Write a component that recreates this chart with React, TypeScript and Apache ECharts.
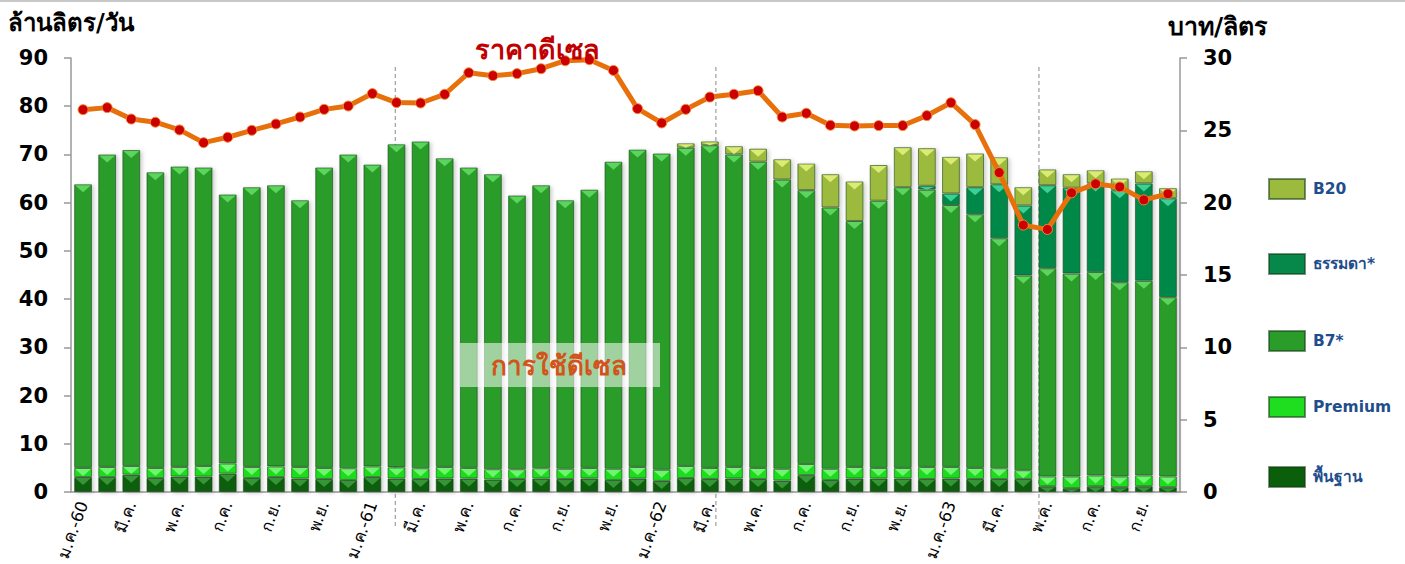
import React, { useEffect, useRef } from "react";
import * as echarts from "echarts";

const months = [
  "ม.ค.-60", "ก.พ.", "มี.ค.", "เม.ย.", "พ.ค.", "มิ.ย.", "ก.ค.", "ส.ค.", "ก.ย.", "ต.ค.", "พ.ย.", "ธ.ค.",
  "ม.ค.-61", "ก.พ.", "มี.ค.", "เม.ย.", "พ.ค.", "มิ.ย.", "ก.ค.", "ส.ค.", "ก.ย.", "ต.ค.", "พ.ย.", "ธ.ค.",
  "ม.ค.-62", "ก.พ.", "มี.ค.", "เม.ย.", "พ.ค.", "มิ.ย.", "ก.ค.", "ส.ค.", "ก.ย.", "ต.ค.", "พ.ย.", "ธ.ค.",
  "ม.ค.-63", "ก.พ.", "มี.ค.", "เม.ย.", "พ.ค.", "มิ.ย.", "ก.ค.", "ส.ค.", "ก.ย.", "ต.ค.",
];

const baseDiesel = [
  3.1, 3.1, 3.6, 2.9, 3.2, 3.2, 3.8, 2.9, 3.1, 2.8, 2.7, 2.5,
  3.1, 2.8, 2.7, 2.8, 2.8, 2.6, 2.7, 2.8, 2.7, 2.8, 2.5, 2.8,
  2.3, 2.9, 2.7, 2.8, 2.7, 2.4, 3.5, 2.5, 2.8, 2.8, 2.8, 2.7,
  2.8, 2.7, 2.7, 2.7, 1.2, 0.8, 1.2, 1.0, 1.2, 1.0,
];
const premium = [
  1.9, 2.1, 1.8, 2.1, 2.0, 2.2, 2.1, 2.3, 2.2, 2.4, 2.3, 2.4,
  2.2, 2.3, 2.2, 2.4, 2.2, 2.1, 2.0, 2.1, 2.1, 2.2, 2.3, 2.4,
  2.3, 2.5, 2.3, 2.4, 2.3, 2.4, 2.3, 2.3, 2.4, 2.2, 2.2, 2.5,
  2.4, 2.3, 2.2, 1.8, 2.0, 2.4, 2.2, 2.2, 2.2, 2.2,
];
const b7 = [
  58.8, 64.8, 65.5, 61.3, 62.3, 61.9, 55.8, 58.0, 58.3, 55.3, 62.3, 65.1,
  62.6, 67.0, 67.8, 64.0, 62.3, 61.2, 56.8, 58.7, 55.7, 57.7, 63.7, 65.8,
  65.6, 66.0, 66.9, 64.8, 63.5, 60.0, 56.8, 54.2, 51.0, 55.4, 58.2, 57.5,
  54.3, 52.6, 47.7, 40.4, 43.2, 42.1, 42.2, 40.3, 40.4, 37.2,
];
const regular = [
  0, 0, 0, 0, 0, 0, 0, 0, 0, 0, 0, 0,
  0, 0, 0, 0, 0, 0, 0, 0, 0, 0, 0, 0,
  0, 0, 0, 0, 0, 0, 0, 0, 0, 0, 0, 0.8,
  2.4, 5.6, 11.2, 14.5, 17.2, 17.8, 18.4, 19.1, 20.2, 20.5,
];
const b20 = [
  0, 0, 0, 0, 0, 0, 0, 0, 0, 0, 0, 0,
  0, 0, 0, 0, 0, 0, 0, 0, 0, 0, 0, 0,
  0.2, 0.9, 0.8, 1.7, 2.7, 4.2, 5.5, 6.9, 8.2, 7.4, 8.3, 7.8,
  7.6, 7.0, 5.6, 3.8, 3.3, 2.8, 2.7, 2.4, 2.5, 2.1,
];
const dieselPrice = [
  26.43, 26.57, 25.78, 25.56, 25.03, 24.15, 24.52, 25.0, 25.44, 25.92, 26.45, 26.68,
  27.54, 26.92, 26.89, 27.49, 28.98, 28.78, 28.92, 29.26, 29.81, 29.88, 29.14, 26.5,
  25.51, 26.45, 27.3, 27.49, 27.74, 25.92, 26.18, 25.35, 25.3, 25.33, 25.33, 26.02,
  26.91, 25.4, 22.08, 18.45, 18.15, 20.68, 21.3, 21.09, 20.19, 20.61,
];
const leftTicks = { min: 0, max: 90, interval: 10 };
const rightTicks = { min: 0, max: 30, interval: 5 };
// vertical dashed dividers, in category units (bar index)
const dividers = [12.95, 26.25, 39.65];

const FONT = "'DejaVu Sans', Tahoma, Verdana, 'Noto Sans', sans-serif";
const GAP = 0.26;

const seriesDefs = [
  { name: "พื้นฐาน", data: baseDiesel, color: "#0b5f0b", light: "#3c9a3c" },
  { name: "Premium", data: premium, color: "#1fdd1f", light: "#7af77a" },
  { name: "B7*", data: b7, color: "#2a9c2a", light: "#62dc62" },
  { name: "ธรรมดา*", data: regular, color: "#05884a", light: "#43d89c" },
  { name: "B20", data: b20, color: "#9cba3c", light: "#e2f27a" },
];
const legendOrder = ["B20", "ธรรมดา*", "B7*", "Premium", "พื้นฐาน"];
const legendTops = [178, 253, 330, 396, 466];

export default function App() {
  const ref = useRef<HTMLDivElement>(null);
  useEffect(() => {
    document.body.style.margin = "0";
    const chart = echarts.init(ref.current!, null, { renderer: "svg" });
    const barSeries = seriesDefs.map((s) => ({
      name: s.name,
      type: "bar",
      stack: "use",
      yAxisIndex: 0,
      barCategoryGap: `${GAP * 100}%`,
      data: s.data.map((v) => (v === 0 ? null : v)),
      itemStyle: {
        color: s.color,
        borderColor: "rgba(20,60,20,0.55)",
        borderWidth: 1,
        shadowColor: "rgba(0,0,0,0.22)",
        shadowBlur: 4,
        shadowOffsetX: 2,
        shadowOffsetY: 1,
      },
    }));

    // cumulative tops of each segment, for the bevel highlights
    const bevelData = months.map((_, i) => {
      const row: (number | null)[] = [i];
      let cum = 0;
      seriesDefs.forEach((s) => {
        const v = s.data[i];
        row.push(cum);
        cum += v;
        row.push(v > 0 ? cum : null);
      });
      return row;
    });

    const axisLabelStyle = { color: "#000", fontSize: 21, fontWeight: "bold", margin: 23, fontFamily: FONT };

    const option: any = {
      animation: false,
      backgroundColor: "#ffffff",
      textStyle: { fontFamily: FONT },
      grid: { left: 71, right: 225, top: 58, bottom: 72 },
      legend: legendOrder.map((n, i) => ({
        data: [n],
        left: 1268,
        top: legendTops[i],
        padding: 0,
        orient: "vertical",
        itemWidth: 36,
        itemHeight: 20,
        itemGap: 0,
        icon: "rect",
        selectedMode: false,
        textStyle: { color: "#1f4e8c", fontWeight: "bold", fontSize: 15.5, fontFamily: FONT, padding: [0, 0, 0, 3] },
      })),
      xAxis: {
        type: "category",
        data: months,
        axisLine: { lineStyle: { color: "#999999", width: 1.5 } },
        axisTick: { interval: 0, length: 6, lineStyle: { color: "#999999", width: 1.5 } },
        axisLabel: {
          interval: 1,
          rotate: 70,
          color: "#000",
          fontSize: 16.5,
          margin: 10,
          fontFamily: FONT,
        },
        splitLine: { show: false },
      },
      yAxis: [
        {
          type: "value",
          ...leftTicks,
          position: "left",
          axisLine: { show: true, lineStyle: { color: "#999999", width: 1.5 } },
          axisTick: { show: true, length: 7, lineStyle: { color: "#999999", width: 1.5 } },
          axisLabel: axisLabelStyle,
          splitLine: { show: false },
        },
        {
          type: "value",
          ...rightTicks,
          position: "right",
          axisLine: { show: true, lineStyle: { color: "#999999", width: 1.5 } },
          axisTick: { show: true, length: 7, lineStyle: { color: "#999999", width: 1.5 } },
          axisLabel: axisLabelStyle,
          splitLine: { show: false },
        },
      ],
      series: [
        ...barSeries,
        {
          type: "custom",
          yAxisIndex: 0,
          silent: true,
          z: 5,
          data: bevelData,
          encode: { x: 0, y: 2 },
          renderItem: (params: any, api: any) => {
            const i = api.value(0);
            const w = api.size([1, 0])[0] * (1 - GAP) - 2;
            const children: any[] = [];
            seriesDefs.forEach((s, k) => {
              const top = api.value(2 + k * 2);
              if (top == null || isNaN(top)) return;
              const bottom = api.value(1 + k * 2);
              const [x, yTop] = api.coord([i, top]);
              const yBot = api.coord([i, bottom])[1];
              const segH = yBot - yTop;
              const h = Math.min(7, Math.max(0, segH - 1));
              if (h < 1) return;
              children.push({
                type: "polygon",
                shape: {
                  points: [
                    [x - w / 2, yTop + 1],
                    [x + w / 2, yTop + 1],
                    [x, yTop + 1 + h],
                  ],
                },
                style: { fill: s.light, opacity: 0.9 },
              });
            });
            return { type: "group", children };
          },
        },
        {
          name: "ราคาดีเซล",
          type: "line",
          yAxisIndex: 1,
          data: dieselPrice,
          z: 10,
          symbol: "circle",
          symbolSize: 10,
          lineStyle: { color: "#e8700a", width: 5 },
          itemStyle: { color: "#cc0000", borderColor: "#f08a3a", borderWidth: 1 },
        },
      ],
    };
    chart.setOption(option);

    const p0 = chart.convertToPixel({ xAxisIndex: 0 }, months[0]) as number;
    const p1 = chart.convertToPixel({ xAxisIndex: 0 }, 1 as any) as number;
    const bw = p1 - p0;

    chart.setOption({
      graphic: [
        { type: "rect", left: 0, top: 0, shape: { width: 1405, height: 2 }, style: { fill: "#c8c8c8" }, z: 100 },
        ...dividers.map((d) => ({
          type: "line",
          z: 1,
          shape: { x1: p0 + d * bw, y1: 67, x2: p0 + d * bw, y2: 528 },
          style: { stroke: "#8a8a8a", lineWidth: 1, lineDash: [4, 3] },
        })),
        {
          type: "rect",
          z: 50,
          shape: { x: 460, y: 343, width: 200, height: 44 },
          style: { fill: "rgba(255,255,255,0.55)" },
        },
        {
          type: "text",
          z: 51,
          x: 559,
          y: 366,
          style: {
            text: "การใช้ดีเซล",
            fill: "#d2541a",
            font: `bold 26px ${FONT}`,
            align: "center",
            verticalAlign: "middle",
          },
        },
        {
          type: "text",
          z: 51,
          x: 537,
          y: 49,
          style: {
            text: "ราคาดีเซล",
            fill: "#c00000",
            font: `bold 27px ${FONT}`,
            align: "center",
            verticalAlign: "middle",
          },
        },
        {
          type: "text",
          z: 51,
          x: 8,
          y: 23,
          style: { text: "ล้านลิตร/วัน", fill: "#000", font: `bold 24px ${FONT}`, align: "left", verticalAlign: "middle" },
        },
        {
          type: "text",
          z: 51,
          x: 1168,
          y: 26,
          style: { text: "บาท/ลิตร", fill: "#000", font: `bold 25px ${FONT}`, align: "left", verticalAlign: "middle" },
        },
      ],
    });

    return () => chart.dispose();
  }, []);
  return <div ref={ref} style={{ width: 1405, height: 564 }} />;
}
